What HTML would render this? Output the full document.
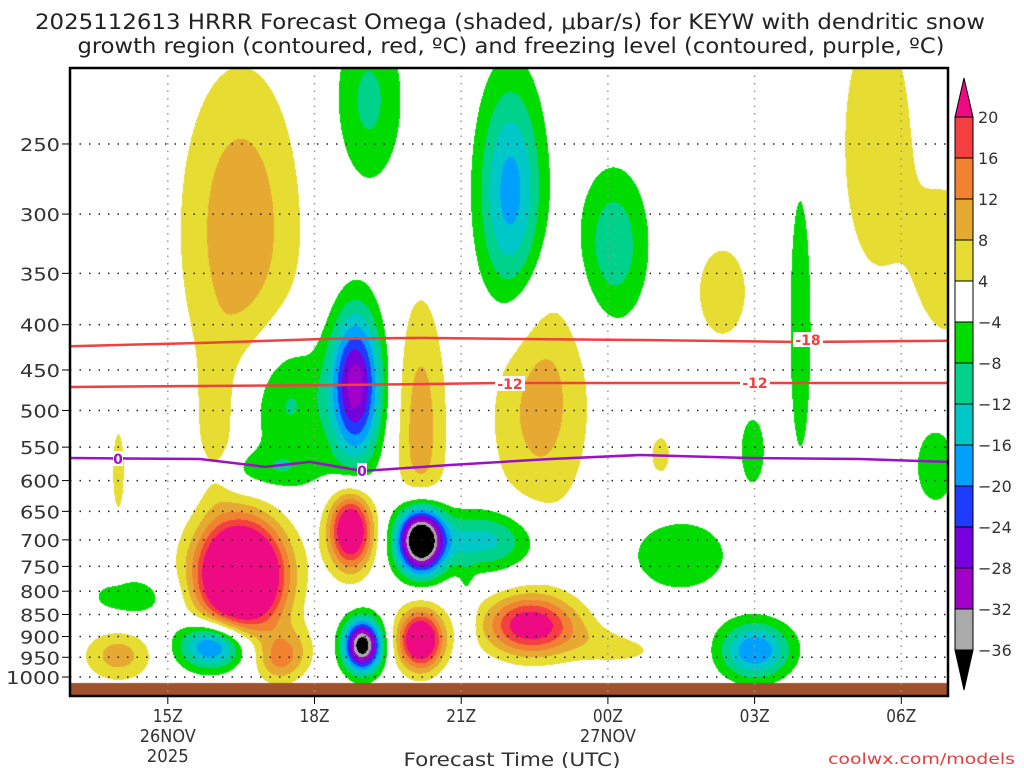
<!DOCTYPE html>
<html><head><meta charset="utf-8">
<style>
html,body{margin:0;padding:0;background:#fff;}
#wrap{position:relative;width:1024px;height:768px;overflow:hidden;font-family:"DejaVu Sans","Liberation Sans",sans-serif;}
canvas{position:absolute;left:0;top:0;}
svg{position:absolute;left:0;top:0;}
</style></head>
<body>
<div id="wrap">
<canvas id="field" width="1024" height="768"></canvas>
<svg id="ov" width="1024" height="768"></svg>
</div>
<script>
// ---- data (hours since 00Z 26NOV, hPa) ----
const blobHour = [16.48,17.5,17.2,18.73,18.97,20.16,20.16,21.5,22.4,24.25,15.92,13.98,14.23,25.47,27.0,17.4,18.83,16.99,19.1,22.0,24.1,27.93,16.48,15.97,20.16,22.6,29.5,30.95,26.33,13.98,25.07,30.69,26.95,24.7,21.1];
const blobPres = [767,935,960,682,920,908,700,700,873,908,920,944,812,728,932,487,468,584,223,285,325,395,313,526,526,487,250,340,367,584,561,576,554,873,880];
const blobAmp  = [45,8,7,30,-40,30,-50,-14,24,7,-24,10,-6,-7,-20,-10,-30,-6,-9,-18,-11,-7,11,6,10,10,7,7,6,5,5,-6,-6,-6,-5];
const blobSigH = [0.62,0.35,0.3,0.31,0.27,0.32,0.34,0.72,0.65,0.8,0.49,0.49,0.74,0.82,0.51,0.61,0.37,0.82,0.51,0.47,0.51,0.2,0.86,0.25,0.37,0.72,0.62,0.5,0.51,0.16,0.25,0.41,0.25,0.6,0.12];
const blobSigL = [0.10,0.05,0.04,0.07,0.047,0.052,0.062,0.057,0.055,0.047,0.044,0.047,0.047,0.078,0.052,0.13,0.138,0.039,0.16,0.21,0.143,0.31,0.30,0.13,0.25,0.22,0.29,0.16,0.12,0.14,0.065,0.10,0.09,0.035,0.12];
const levels = [-36,-32,-28,-24,-20,-16,-12,-8,-4,4,8,12,16,20];
const levelColors = ["#000000","#aaaaaa","#a000c8","#7800dc","#1e3cff","#00a0ff","#00c8c8","#00d28c","#00dc00","#ffffff","#e6dc32","#e6aa32","#f08232","#f44040","#ee0a82"];
const yTicks = [250,300,350,400,450,500,550,600,650,700,750,800,850,900,950,1000];
const xTickHours = [15,18,21,24,27,30];
const xTickLabels = ["15Z","18Z","21Z","00Z","03Z","06Z"];
const isoHours = [13,15.66,18.32,20.16,21.79,24.66,27.93,30.95];
const iso18Pres = [423,419.5,415,414,415,416.3,418.4,417];
const iso12Pres = [470.4,469.2,468,466.8,465.5,465.5,465.5,465.5];
const frzHours = [13,15.66,16.99,17.91,18.97,20.77,22.82,24.66,26.9,29.15,30.95];
const frzPres = [565.8,567.3,579,571.6,585.2,576.1,567.3,561.4,565.8,567.3,571.6];

// ---- axes ----
const X0=70,X1=948,Y0=68,Y1=696,HPX=48.9,LPX=384.5,Y1000=677;
const xOf=h=>X0+(h-13)*HPX;
const yOf=p=>Y1000-LPX*Math.log(1000/p);
const hOf=x=>13+(x-X0)/HPX;
const lOf=y=>(Y1000-y)/LPX;

// ---- field ----
const cv=document.getElementById('field'),ctx=cv.getContext('2d');
const W=X1-X0,H=683-Y0;
const img=ctx.createImageData(W,H);
const rgb=levelColors.map(c=>[parseInt(c.substr(1,2),16),parseInt(c.substr(3,2),16),parseInt(c.substr(5,2),16)]);
const bl=blobPres.map(p=>Math.log(1000/p));
for(let j=0;j<H;j++){const L=lOf(Y0+j);
 for(let i=0;i<W;i++){const h=hOf(X0+i);let v=0;
  for(let k=0;k<blobAmp.length;k++){const dh=(h-blobHour[k])/blobSigH[k],dl=(L-bl[k])/blobSigL[k];const e=dh*dh+dl*dl;if(e<30)v+=blobAmp[k]*Math.exp(-0.5*e);}
  let c=levels.length;for(let m=0;m<levels.length;m++){if(v<levels[m]){c=m;break;}}
  const o=(j*W+i)*4,col=rgb[c];img.data[o]=col[0];img.data[o+1]=col[1];img.data[o+2]=col[2];img.data[o+3]=255;}}
ctx.putImageData(img,X0,Y0);
ctx.fillStyle="#a0522d";ctx.fillRect(X0,683,W,Y1-683);

// ---- overlay ----
const NS="http://www.w3.org/2000/svg",svg=document.getElementById('ov');
function mk(t,a,txt){const e=document.createElementNS(NS,t);for(const k in a)e.setAttribute(k,a[k]);if(txt!==undefined)e.textContent=txt;svg.appendChild(e);return e;}
function tx(x,y,s,name,extra){const e=mk('text',Object.assign({x:x,y:y,'text-anchor':'middle','font-size':17,fill:'#333'},extra||{}),s);return e;}
yTicks.forEach(p=>{const y=yOf(p);
 const g=mk('line',{x1:X0,x2:X1,y1:y,y2:y,stroke:'#222','stroke-width':1.5,'stroke-dasharray':'1.5 8'});
 
 
 const t=mk('line',{x1:X0-8,x2:X0,y1:y,y2:y,stroke:'#000','stroke-width':1});
 
 
 const s=String(p);
 tx(60,y+7,s,'y-tick-label',{'text-anchor':'end','font-size':18,textLength:s.length===4?54:40,lengthAdjust:'spacingAndGlyphs'});
});
xTickHours.forEach((h,i)=>{const x=xOf(h);
 const g=mk('line',{x1:x,x2:x,y1:Y0,y2:Y1,stroke:'#999','stroke-width':1.5,'stroke-dasharray':'1.5 6'});
 
 
 const t=mk('line',{x1:x,x2:x,y1:Y1,y2:Y1+8,stroke:'#000'});
 
 
 tx(x,722,xTickLabels[i],'x-tick-label',{'font-size':18,textLength:30,lengthAdjust:'spacingAndGlyphs'});
});
tx(xOf(15),742,'26NOV','date-label-1',{'font-size':18,textLength:56,lengthAdjust:'spacingAndGlyphs'});
tx(xOf(15),762,'2025','year-label',{'font-size':18,textLength:42,lengthAdjust:'spacingAndGlyphs'});
tx(xOf(24),742,'27NOV','date-label-2',{'font-size':18,textLength:56,lengthAdjust:'spacingAndGlyphs'});
tx(512,766,'Forecast Time (UTC)','x-axis-title',{'font-size':19,textLength:217,lengthAdjust:'spacingAndGlyphs'});
tx(1015,764,'coolwx.com/models','credit-label',{'text-anchor':'end','font-size':15,fill:'#e04040',textLength:187,lengthAdjust:'spacingAndGlyphs'});
function poly(hs,ps,col,name){const d=hs.map((h,i)=>(i?'L':'M')+xOf(h).toFixed(1)+' '+yOf(ps[i]).toFixed(1)).join(' ');
 const e=mk('path',{d:d,fill:'none',stroke:col,'stroke-width':2.5});}
poly(isoHours,iso18Pres,'#f04040','contour-minus18');
poly(isoHours,iso12Pres,'#f04040','contour-minus12');
poly(frzHours,frzPres,'#9b10c8','freezing-level-contour');
function clab(x,y,s,col,name){const r=mk('rect',{x:x-s.length*5,y:y-8,width:s.length*10,height:15,fill:'#fff'});
 tx(x,y+5,s,name,{'font-size':14,'font-weight':'bold',fill:col});}
clab(808,340,'-18','#f04040','label-minus18');
clab(510,384,'-12','#f04040','label-minus12');clab(755,383,'-12','#f04040','label-minus12b');
clab(118,459,'0','#9b10c8','label-frz-1');clab(362,471,'0','#9b10c8','label-frz-2');
const fr=mk('rect',{x:X0,y:Y0,width:W,height:Y1-Y0,fill:'none',stroke:'#000','stroke-width':2.5});


tx(510,29,'2025112613 HRRR Forecast Omega (shaded, μbar/s) for KEYW with dendritic snow','title-line-1',{'font-size':21,fill:'#222',textLength:950,lengthAdjust:'spacingAndGlyphs'});
tx(511,53,'growth region (contoured, red, ºC) and freezing level (contoured, purple, ºC)','title-line-2',{'font-size':21,fill:'#222',textLength:867,lengthAdjust:'spacingAndGlyphs'});
const CBX=955,CBW=18,CBT=117,STEP=41;
for(let m=1;m<levelColors.length-1;m++){const idx=levelColors.length-1-m;const y=CBT+(m-1)*STEP;
 const r=mk('rect',{x:CBX,y:y,width:CBW,height:STEP,fill:levelColors[idx],stroke:'#000','stroke-width':1});
 
 }
const tt=mk('polygon',{points:`${CBX},${CBT} ${CBX+CBW},${CBT} ${CBX+CBW/2},78`,fill:levelColors[levelColors.length-1],stroke:'#000'});


const bb=CBT+13*STEP;
const tb=mk('polygon',{points:`${CBX},${bb} ${CBX+CBW},${bb} ${CBX+CBW/2},690`,fill:levelColors[0],stroke:'#000'});


for(let m=0;m<levels.length;m++){const v=levels[levels.length-1-m];const y=CBT+m*STEP;
 tx(978,y+6,(v<0?'−':'')+Math.abs(v),'colorbar-label',{'text-anchor':'start','font-size':16});}
</script>
</body></html>
